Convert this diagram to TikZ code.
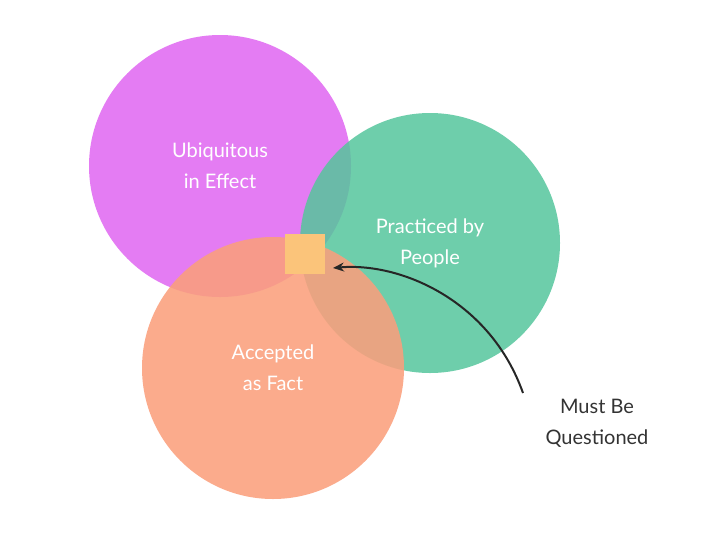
\documentclass[tikz,border=0pt]{standalone}
\usepackage{fontspec}
\setmainfont{Lato}
\usetikzlibrary{shapes.geometric,arrows.meta}
\definecolor{mag}{HTML}{E47CF3}
\definecolor{grn}{HTML}{55C59C}
\definecolor{org}{HTML}{FA9F7C}
\definecolor{star}{HTML}{FBC47A}
\tikzset{lbl/.style={text=white,font=\fontsize{20}{31}\selectfont,align=center},
 note/.style={text=black!80,font=\fontsize{20}{31}\selectfont,align=center}}
\begin{document}
\begin{tikzpicture}[x=1pt,y=-1pt]
\useasboundingbox (0,0) rectangle (706,533);
\fill[mag] (220,166) circle (131);
\fill[grn,opacity=0.85] (430,243) circle (130);
\fill[org,opacity=0.88] (273,368) circle (131);
\node[lbl] (u) at (220,166) {Ubiquitous\\in Effect};
\node[lbl] (p) at (430,243) {Practiced by\\People};
\node[lbl] (a) at (273,368) {Accepted\\as Fact};
\node[star,star points=5,star point ratio=2.3,fill=star,minimum size=40pt,inner sep=0pt] (s) at (305,254) {};
\node[note] (m) at (597,423) {Must Be\\Questioned};
\draw[-{Stealth[length=11pt,width=9pt]},line width=2pt,black!85] (523,393) .. controls (490,300) and (400,262) .. (333,268);
\end{tikzpicture}
\end{document}
